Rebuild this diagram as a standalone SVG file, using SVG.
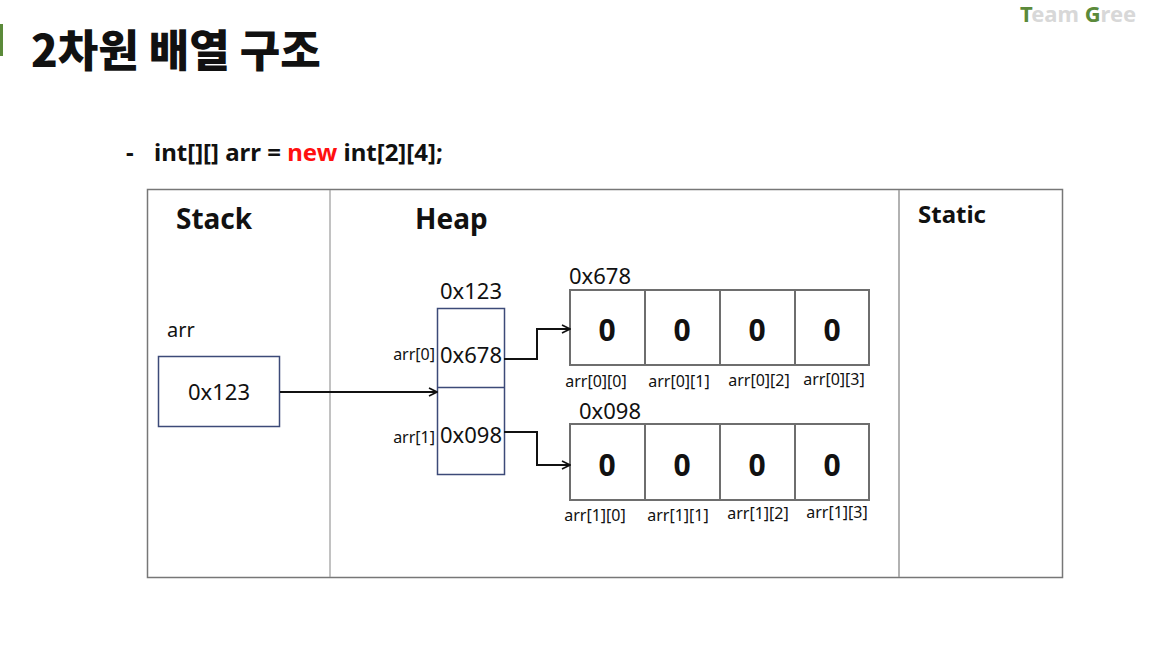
<svg xmlns="http://www.w3.org/2000/svg" width="1152" height="648" viewBox="0 0 1152 648">
<style>
.t{font-family:"Noto Sans","Noto Sans CJK KR",sans-serif;fill:#111}
.h{font-family:"Noto Sans",sans-serif;font-weight:700;fill:#111}
.cell{fill:#fff;stroke:#6e6e6e;stroke-width:2}
.ptr{fill:#fff;stroke:#3c4a78;stroke-width:1.5}
.zero{font-family:"Noto Sans",sans-serif;font-weight:700;font-size:30px;fill:#111;text-anchor:middle}
.idx{font-family:"Noto Sans",sans-serif;font-size:16px;fill:#111;text-anchor:middle}
.conn{fill:none;stroke:#111;stroke-width:2}
</style>
<defs>
<marker id="arr" markerWidth="10" markerHeight="10" refX="9" refY="5" orient="auto" markerUnits="userSpaceOnUse">
<path d="M1,1 L9,5 L1,9" fill="none" stroke="#111" stroke-width="1.6"/>
</marker>
</defs>
<rect width="1152" height="648" fill="#fff"/>
<rect x="0" y="24" width="3" height="32" fill="#5b8a3a"/>
<text x="1020" y="22" font-family="Noto Sans,sans-serif" font-weight="700" font-size="22" fill="#d8d8d8"><tspan fill="#5b8a3a">T</tspan>eam <tspan fill="#5b8a3a">G</tspan>ree</text>
<g id="title">
<text x="31" y="67" font-family="Noto Sans CJK KR,sans-serif" font-weight="900" font-size="44" fill="#111">2차원 배열 구조</text>
</g>
<g id="code">
<text x="126" y="161" font-family="Noto Sans,Noto Sans CJK KR,sans-serif" font-weight="700" font-size="24" fill="#111">-</text>
<text x="154" y="161" font-family="Noto Sans,Noto Sans CJK KR,sans-serif" font-weight="700" font-size="24" fill="#111">int[][] arr = <tspan fill="#ff1010">new</tspan> int[2][4];</text>
</g>
<g id="frame">
<rect x="147.5" y="189.5" width="915" height="388" fill="#fff" stroke="#777" stroke-width="1.5"/>
<line x1="330" y1="190" x2="330" y2="577" stroke="#999" stroke-width="1.2"/>
<line x1="899" y1="190" x2="899" y2="577" stroke="#999" stroke-width="1.5"/>
<text class="h" x="176" y="229" font-size="28">Stack</text>
<text class="h" x="415" y="229" font-size="28">Heap</text>
<text class="h" x="918" y="223" font-size="24">Static</text>
</g>
<g id="stack-arr">
<text class="t" x="167" y="337" font-size="20">arr</text>
<rect class="ptr" x="158.5" y="356.5" width="121" height="70"/>
<text class="t" x="219" y="400" font-size="22" text-anchor="middle">0x123</text>
</g>
<g id="heap-ptr">
<text class="t" x="471" y="299" font-size="22" text-anchor="middle">0x123</text>
<rect class="ptr" x="437.5" y="308.5" width="67" height="166"/>
<line x1="437.5" y1="387.5" x2="504.5" y2="387.5" stroke="#3c4a78" stroke-width="1.5"/>
<text class="t" x="471" y="363" font-size="22" text-anchor="middle">0x678</text>
<text class="t" x="471" y="443" font-size="22" text-anchor="middle">0x098</text>
<text class="t" x="435" y="360" font-size="16" text-anchor="end">arr[0]</text>
<text class="t" x="435" y="443" font-size="16" text-anchor="end">arr[1]</text>
</g>
<g id="row0">
<text class="t" x="569" y="284" font-size="22">0x678</text>
<rect class="cell" x="570" y="290" width="75" height="75"/>
<rect class="cell" x="645" y="290" width="75" height="75"/>
<rect class="cell" x="720" y="290" width="75" height="75"/>
<rect class="cell" x="795" y="290" width="74" height="75"/>
<text class="zero" x="607" y="341">0</text>
<text class="zero" x="682" y="341">0</text>
<text class="zero" x="757" y="341">0</text>
<text class="zero" x="832" y="341">0</text>
<text class="idx" x="596" y="387">arr[0][0]</text>
<text class="idx" x="679" y="387">arr[0][1]</text>
<text class="idx" x="759" y="386">arr[0][2]</text>
<text class="idx" x="834" y="385">arr[0][3]</text>
</g>
<g id="row1">
<text class="t" x="579" y="419" font-size="22">0x098</text>
<rect class="cell" x="570" y="424" width="75" height="76"/>
<rect class="cell" x="645" y="424" width="75" height="76"/>
<rect class="cell" x="720" y="424" width="75" height="76"/>
<rect class="cell" x="795" y="424" width="74" height="76"/>
<text class="zero" x="607" y="476">0</text>
<text class="zero" x="682" y="476">0</text>
<text class="zero" x="757" y="476">0</text>
<text class="zero" x="832" y="476">0</text>
<text class="idx" x="595" y="521">arr[1][0]</text>
<text class="idx" x="678" y="521">arr[1][1]</text>
<text class="idx" x="758" y="519">arr[1][2]</text>
<text class="idx" x="837" y="518">arr[1][3]</text>
</g>
<g id="connectors">
<path class="conn" d="M280,392 L437,392" marker-end="url(#arr)"/>
<path class="conn" d="M504,359 L537,359 L537,329 L570,329" marker-end="url(#arr)"/>
<path class="conn" d="M504,432 L537,432 L537,465 L570,465" marker-end="url(#arr)"/>
</g>
</svg>
